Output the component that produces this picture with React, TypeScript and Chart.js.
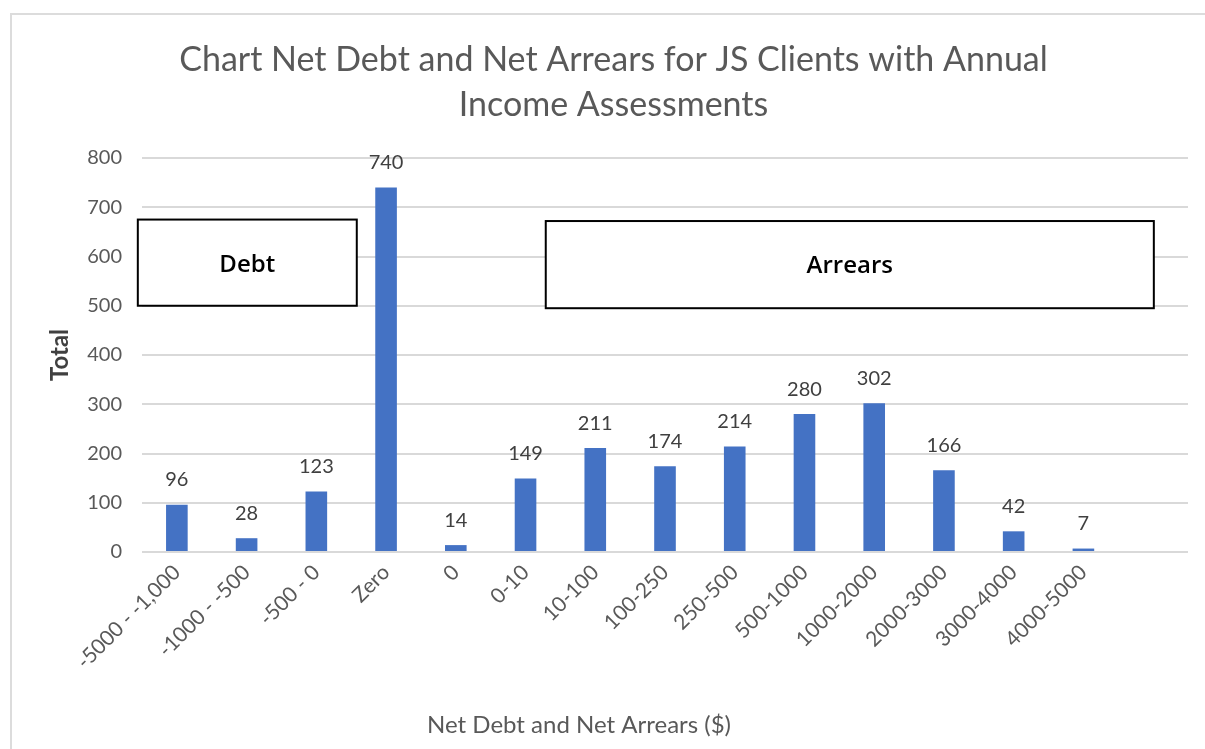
import React, { useEffect, useRef } from "react";
import { Chart, registerables } from "chart.js";

Chart.register(...registerables);

const categories: string[] = [
  "-5000 - -1,000",
  "-1000 - -500",
  "-500 - 0",
  "Zero",
  "0",
  "0-10",
  "10-100",
  "100-250",
  "250-500",
  "500-1000",
  "1000-2000",
  "2000-3000",
  "3000-4000",
  "4000-5000",
  "",
];
const totals: (number | null)[] = [96, 28, 123, 740, 14, 149, 211, 174, 214, 280, 302, 166, 42, 7, null];
const yTicks: number[] = [0, 100, 200, 300, 400, 500, 600, 700, 800];

const chartTitle = ["Chart Net Debt and Net Arrears for JS Clients with Annual", "Income Assessments"];
const xTitle = "Net Debt and Net Arrears ($)";
const yTitle = "Total";

// annotation boxes (category-index and value units)
const boxLabels = ["Debt", "Arrears"];
const boxXFrom = [-0.56, 5.29];
const boxXTo = [2.58, 14.01];
const boxYLow = [500, 495];
const boxYHigh = [675, 672];

const BAR = "#4472C4";
const GRID = "#d9d9d9";
const TXT = "#595959";

const boxPlugin = {
  id: "boxes",
  afterDatasetsDraw(chart: any) {
    const { ctx, scales } = chart;
    const xs = scales.x;
    const ys = scales.y;
    ctx.save();
    for (let i = 0; i < boxLabels.length; i++) {
      const x0 = xs.getPixelForValue(boxXFrom[i]);
      const x1 = xs.getPixelForValue(boxXTo[i]);
      const y0 = ys.getPixelForValue(boxYHigh[i]);
      const y1 = ys.getPixelForValue(boxYLow[i]);
      ctx.fillStyle = "#ffffff";
      ctx.fillRect(x0, y0, x1 - x0, y1 - y0);
      ctx.strokeStyle = "#000000";
      ctx.lineWidth = 2;
      ctx.strokeRect(x0, y0, x1 - x0, y1 - y0);
      ctx.fillStyle = "#000000";
      ctx.font = "600 24px 'Open Sans'";
      ctx.textAlign = "center";
      ctx.textBaseline = "middle";
      ctx.fillText(boxLabels[i], (x0 + x1) / 2, (y0 + y1) / 2 + 2);
    }
    ctx.restore();
  },
};

const valueLabelPlugin = {
  id: "valueLabels",
  afterDatasetsDraw(chart: any) {
    const { ctx } = chart;
    const meta = chart.getDatasetMeta(0);
    ctx.save();
    ctx.fillStyle = "#404040";
    ctx.font = "20px Lato";
    ctx.textAlign = "center";
    ctx.textBaseline = "middle";
    meta.data.forEach((bar: any, i: number) => {
      const v = totals[i];
      if (v === null || v === undefined) return;
      ctx.fillText(String(v), bar.x, bar.y - 25);
    });
    ctx.restore();
  },
};

const textPlugin = {
  id: "texts",
  afterDraw(chart: any) {
    const { ctx, chartArea } = chart;
    ctx.save();
    ctx.fillStyle = TXT;
    ctx.textAlign = "center";
    // chart title
    ctx.font = "34px Lato";
    ctx.textBaseline = "alphabetic";
    const cx = chart.width / 2 + 11;
    ctx.fillText(chartTitle[0], cx, 71);
    ctx.fillText(chartTitle[1], cx, 116);
    // x axis title
    ctx.font = "24px Lato";
    ctx.textBaseline = "middle";
    ctx.fillText(xTitle, (chartArea.left + chartArea.right) / 2 - 86, chart.height - 24);
    ctx.restore();
  },
};

export default function App() {
  const ref = useRef<HTMLCanvasElement | null>(null);
  useEffect(() => {
    if (!ref.current) return;
    const chart = new Chart(ref.current, {
      type: "bar",
      data: {
        labels: categories,
        datasets: [
          {
            data: totals as any,
            backgroundColor: BAR,
            categoryPercentage: 1,
            barPercentage: 0.31,
          },
        ],
      },
      options: {
        animation: false,
        responsive: false,
        maintainAspectRatio: false,
        layout: { padding: { left: 0, right: 17, top: 158, bottom: 0 } },
        plugins: {
          legend: { display: false },
          tooltip: { enabled: false },
          title: { display: false },
        },
        scales: {
          x: {
            grid: { display: false, drawTicks: false },
            border: { display: false },
            ticks: {
              color: TXT,
              font: { family: "Lato", size: 21 },
              minRotation: 45,
              maxRotation: 45,
              autoSkip: false,
              padding: 8,
            },
            afterFit(scale: any) {
              scale.height = 197;
            },
          },
          y: {
            min: 0,
            max: 800,
            afterBuildTicks(scale: any) {
              scale.ticks = yTicks.map((v) => ({ value: v }));
            },
            grid: { color: GRID, lineWidth: 2, drawTicks: false },
            border: { display: false },
            ticks: {
              color: TXT,
              font: { family: "Lato", size: 20 },
              padding: 20,
            },
            title: {
              display: true,
              text: yTitle,
              color: "#404040",
              font: { family: "Lato", size: 24, weight: "bold" },
              padding: { top: 46, bottom: 0 },
            },
            afterFit(scale: any) {
              scale.width = 142;
            },
          },
        },
      },
      plugins: [boxPlugin, valueLabelPlugin, textPlugin],
    });
    return () => chart.destroy();
  }, []);

  return (
    <div style={{ position: "absolute", left: 0, top: 0, width: 1205, height: 749, background: "#fff", overflow: "hidden" }}>
      <div
        style={{
          position: "absolute",
          left: 10,
          top: 13,
          width: 1300,
          height: 800,
          borderTop: "2px solid #dcdcdc",
          borderLeft: "2px solid #dcdcdc",
        }}
      />
      <canvas ref={ref} width={1205} height={749} style={{ position: "absolute", left: 0, top: 0 }} />
    </div>
  );
}
